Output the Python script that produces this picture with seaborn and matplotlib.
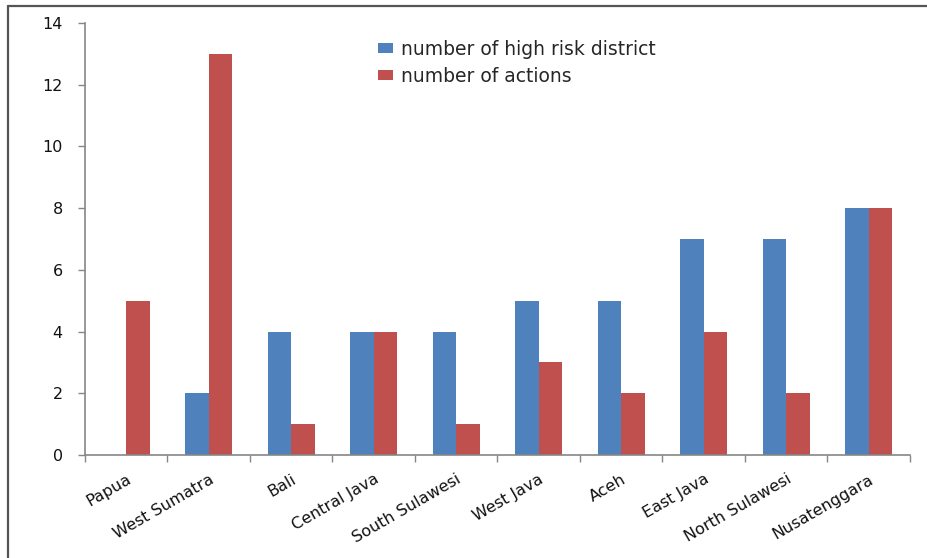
import matplotlib
matplotlib.use("Agg")
import matplotlib.pyplot as plt
from matplotlib.lines import Line2D
import seaborn as sns
import pandas as pd
import numpy as np

provinces = ["Papua", "West Sumatra", "Bali", "Central Java", "South Sulawesi",
             "West Java", "Aceh", "East Java", "North Sulawesi", "Nusatenggara"]
high_risk = [0, 2, 4, 4, 4, 5, 5, 7, 7, 8]
actions = [5, 13, 1, 4, 1, 3, 2, 4, 2, 8]
series_names = ["number of high risk district", "number of actions"]
colors = ["#4F81BD", "#C0504D"]

df = pd.DataFrame({
    "province": provinces * 2,
    "value": high_risk + actions,
    "series": [series_names[0]] * len(provinces) + [series_names[1]] * len(provinces),
})

sns.set_style("white")
plt.rcParams["font.family"] = "sans-serif"
plt.rcParams["font.sans-serif"] = ["DejaVu Sans"]

fig = plt.figure(figsize=(9.28, 5.58), dpi=100)
ax = fig.add_axes([85 / 928, 1 - 455 / 558, 825 / 928, 432 / 558])

sns.barplot(data=df, x="province", y="value", hue="series", palette=colors,
            width=0.57, gap=0, saturation=1, ax=ax, errorbar=None,
            linewidth=0)

ax.set_ylim(0, 14)
ax.set_xlim(-0.5, len(provinces) - 0.5)
ax.set_yticks(np.arange(0, 15, 2))
ax.set_xlabel("")
ax.set_ylabel("")

axis_grey = "#868686"
for side in ["top", "right"]:
    ax.spines[side].set_visible(False)
for side in ["left", "bottom"]:
    ax.spines[side].set_color(axis_grey)
    ax.spines[side].set_linewidth(1.2)

ax.tick_params(axis="y", length=5, width=1, color=axis_grey, direction="out",
               left=True, labelsize=11.5, pad=11, labelcolor="#111111")
ax.tick_params(axis="x", which="major", length=0, labelsize=11.5, pad=12,
               labelcolor="#111111")
ax.set_xticks(np.arange(-0.5, len(provinces), 1), minor=True)
ax.tick_params(axis="x", which="minor", length=5, width=1, color=axis_grey,
               direction="out", bottom=True)
plt.setp(ax.get_xticklabels(), rotation=30, ha="right", rotation_mode="anchor")

ax.legend(loc="upper left", bbox_to_anchor=(378 / 928, 1 - 40 / 558),
          bbox_transform=fig.transFigure, frameon=False, fontsize=13.5,
          borderpad=0, borderaxespad=0,
          handlelength=0.8, handleheight=0.45, handletextpad=0.45,
          labelspacing=0.4)

# outer frame lines along top and left
frame_color = "#555555"
fig.add_artist(Line2D([8 / 928, 8 / 928], [0, 1 - 5.5 / 558],
                      color=frame_color, lw=1.6, transform=fig.transFigure))
fig.add_artist(Line2D([8 / 928, 1], [1 - 5.5 / 558, 1 - 5.5 / 558],
                      color=frame_color, lw=1.6, transform=fig.transFigure))

fig.savefig("out.png", dpi=100)
